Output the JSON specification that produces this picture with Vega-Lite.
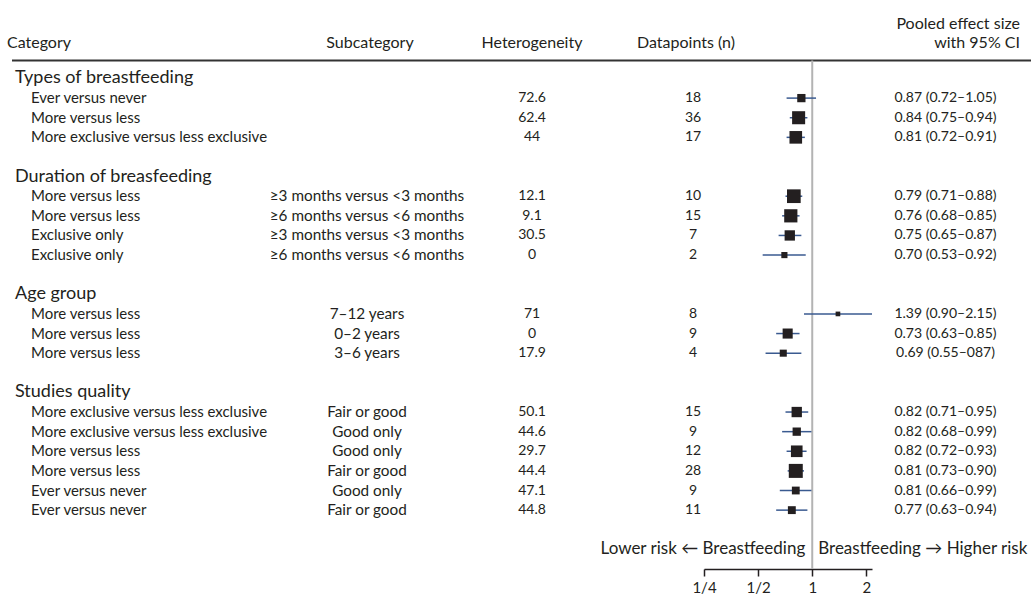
{
  "$schema": "https://vega.github.io/schema/vega-lite/v6.json",
  "width": 1031,
  "height": 569,
  "padding": 0,
  "autosize": {"type": "pad"},
  "background": "white",
  "config": {
    "view": {"stroke": null},
    "font": "Lato",
    "text": {"color": "#231f20", "fontSize": 15, "font": "Lato"}
  },
  "datasets": {
    "rows": [
      {"kind": "section", "row": -1, "label": "Types of breastfeeding"},
      {"kind": "item", "row": 0, "label": "Ever versus never", "sub": "", "het": "72.6", "n": 18, "est": 0.87, "lo": 0.72, "hi": 1.05, "ci": "0.87 (0.72–1.05)", "weight": 108},
      {"kind": "item", "row": 1, "label": "More versus less", "sub": "", "het": "62.4", "n": 36, "est": 0.84, "lo": 0.75, "hi": 0.94, "ci": "0.84 (0.75–0.94)", "weight": 301},
      {"kind": "item", "row": 2, "label": "More exclusive versus less exclusive", "sub": "", "het": "44", "n": 17, "est": 0.81, "lo": 0.72, "hi": 0.91, "ci": "0.81 (0.72–0.91)", "weight": 280},
      {"kind": "section", "row": 4, "label": "Duration of breasfeeding"},
      {"kind": "item", "row": 5, "label": "More versus less", "sub": "≥3 months versus <3 months", "het": "12.1", "n": 10, "est": 0.79, "lo": 0.71, "hi": 0.88, "ci": "0.79 (0.71–0.88)", "weight": 334},
      {"kind": "item", "row": 6, "label": "More versus less", "sub": "≥6 months versus <6 months", "het": "9.1", "n": 15, "est": 0.76, "lo": 0.68, "hi": 0.85, "ci": "0.76 (0.68–0.85)", "weight": 309},
      {"kind": "item", "row": 7, "label": "Exclusive only", "sub": "≥3 months versus <3 months", "het": "30.5", "n": 7, "est": 0.75, "lo": 0.65, "hi": 0.87, "ci": "0.75 (0.65–0.87)", "weight": 181},
      {"kind": "item", "row": 8, "label": "Exclusive only", "sub": "≥6 months versus <6 months", "het": "0", "n": 2, "est": 0.70, "lo": 0.53, "hi": 0.92, "ci": "0.70 (0.53–0.92)", "weight": 50},
      {"kind": "section", "row": 10, "label": "Age group"},
      {"kind": "item", "row": 11, "label": "More versus less", "sub": "7–12 years", "het": "71", "n": 8, "est": 1.39, "lo": 0.90, "hi": 2.15, "ci": "1.39 (0.90–2.15)", "weight": 20},
      {"kind": "item", "row": 12, "label": "More versus less", "sub": "0–2 years", "het": "0", "n": 9, "est": 0.73, "lo": 0.63, "hi": 0.85, "ci": "0.73 (0.63–0.85)", "weight": 171},
      {"kind": "item", "row": 13, "label": "More versus less", "sub": "3–6 years", "het": "17.9", "n": 4, "est": 0.69, "lo": 0.55, "hi": 0.87, "ci": "0.69 (0.55–087)", "weight": 73},
      {"kind": "section", "row": 15, "label": "Studies quality"},
      {"kind": "item", "row": 16, "label": "More exclusive versus less exclusive", "sub": "Fair or good", "het": "50.1", "n": 15, "est": 0.82, "lo": 0.71, "hi": 0.95, "ci": "0.82 (0.71–0.95)", "weight": 181},
      {"kind": "item", "row": 17, "label": "More exclusive versus less exclusive", "sub": "Good only", "het": "44.6", "n": 9, "est": 0.82, "lo": 0.68, "hi": 0.99, "ci": "0.82 (0.68–0.99)", "weight": 109},
      {"kind": "item", "row": 18, "label": "More versus less", "sub": "Good only", "het": "29.7", "n": 12, "est": 0.82, "lo": 0.72, "hi": 0.93, "ci": "0.82 (0.72–0.93)", "weight": 235},
      {"kind": "item", "row": 19, "label": "More versus less", "sub": "Fair or good", "het": "44.4", "n": 28, "est": 0.81, "lo": 0.73, "hi": 0.90, "ci": "0.81 (0.73–0.90)", "weight": 350},
      {"kind": "item", "row": 20, "label": "Ever versus never", "sub": "Good only", "het": "47.1", "n": 9, "est": 0.81, "lo": 0.66, "hi": 0.99, "ci": "0.81 (0.66–0.99)", "weight": 94},
      {"kind": "item", "row": 21, "label": "Ever versus never", "sub": "Fair or good", "het": "44.8", "n": 11, "est": 0.77, "lo": 0.63, "hi": 0.94, "ci": "0.77 (0.63–0.94)", "weight": 96}
    ]
  },
  "data": {"name": "rows"},
  "layer": [
    {
      "data": {"values": [{}]},
      "mark": {"type": "rule", "color": "#333333", "strokeWidth": 2},
      "encoding": {
        "x": {"value": 12},
        "x2": {"value": "width"},
        "y": {"datum": -1.92, "type": "quantitative", "scale": {"domain": [-5, 24], "reverse": true, "nice": false, "zero": false}, "axis": null}
      }
    },
    {
      "data": {"values": [{}]},
      "mark": {"type": "rule", "color": "#b3b3b3", "strokeWidth": 2},
      "encoding": {
        "x": {"datum": 1, "type": "quantitative"},
        "y": {"datum": -1.92, "type": "quantitative"},
        "y2": {"datum": 24}
      }
    },
    {
      "transform": [{"filter": "datum.kind == 'item'"}],
      "mark": {"type": "rule", "color": "#3a5a90", "strokeWidth": 1.5},
      "encoding": {
        "x": {
          "field": "lo", "type": "quantitative",
          "scale": {"type": "log", "domain": [0.25, 2.15], "range": [704, 872], "nice": false},
          "axis": {
            "values": [0.25, 0.5, 1, 2],
            "labelExpr": "datum.value == 0.25 ? '1/4' : datum.value == 0.5 ? '1/2' : datum.value == 1 ? '1' : '2'",
            "title": null, "grid": false,
            "domainColor": "#231f20", "domainWidth": 1.5,
            "tickColor": "#231f20", "tickWidth": 1.5, "tickSize": 7,
            "labelFontSize": 15, "labelColor": "#231f20", "labelPadding": 4, "labelFont": "Lato", "labelFlush": false
          }
        },
        "x2": {"field": "hi"},
        "y": {"field": "row", "type": "quantitative"}
      }
    },
    {
      "transform": [{"filter": "datum.kind == 'item'"}],
      "mark": {"type": "point", "shape": "square", "filled": true, "color": "#231f20", "opacity": 1},
      "encoding": {
        "x": {"field": "est", "type": "quantitative"},
        "y": {"field": "row", "type": "quantitative"},
        "size": {"field": "weight", "type": "quantitative", "scale": {"domain": [20, 350], "range": [22, 196], "zero": false}, "legend": null}
      }
    },
    {
      "transform": [{"filter": "datum.kind == 'section'"}],
      "mark": {"type": "text", "align": "left", "baseline": "middle", "fontSize": 18},
      "encoding": {"x": {"value": 15}, "y": {"field": "row", "type": "quantitative"}, "text": {"field": "label"}}
    },
    {
      "transform": [{"filter": "datum.kind == 'item'"}],
      "mark": {"type": "text", "align": "left", "baseline": "middle"},
      "encoding": {"x": {"value": 31}, "y": {"field": "row", "type": "quantitative"}, "text": {"field": "label"}}
    },
    {
      "transform": [{"filter": "datum.kind == 'item'"}],
      "mark": {"type": "text", "align": "center", "baseline": "middle", "fontSize": 15.3},
      "encoding": {"x": {"value": 367}, "y": {"field": "row", "type": "quantitative"}, "text": {"field": "sub"}}
    },
    {
      "transform": [{"filter": "datum.kind == 'item'"}],
      "mark": {"type": "text", "align": "center", "baseline": "middle", "fontSize": 14},
      "encoding": {"x": {"value": 532}, "y": {"field": "row", "type": "quantitative"}, "text": {"field": "het"}}
    },
    {
      "transform": [{"filter": "datum.kind == 'item'"}],
      "mark": {"type": "text", "align": "center", "baseline": "middle", "fontSize": 14},
      "encoding": {"x": {"value": 693}, "y": {"field": "row", "type": "quantitative"}, "text": {"field": "n", "type": "nominal"}}
    },
    {
      "transform": [{"filter": "datum.kind == 'item'"}],
      "mark": {"type": "text", "align": "center", "baseline": "middle", "fontSize": 14},
      "encoding": {"x": {"value": 945.5}, "y": {"field": "row", "type": "quantitative"}, "text": {"field": "ci"}}
    },
    {
      "data": {"values": [{}]},
      "mark": {"type": "text", "align": "left", "baseline": "middle", "fontSize": 16, "text": "Category"},
      "encoding": {"x": {"value": 7}, "y": {"datum": -2.81, "type": "quantitative"}}
    },
    {
      "data": {"values": [{}]},
      "mark": {"type": "text", "align": "center", "baseline": "middle", "fontSize": 16, "text": "Subcategory"},
      "encoding": {"x": {"value": 370}, "y": {"datum": -2.81, "type": "quantitative"}}
    },
    {
      "data": {"values": [{}]},
      "mark": {"type": "text", "align": "center", "baseline": "middle", "fontSize": 16, "text": "Heterogeneity"},
      "encoding": {"x": {"value": 532}, "y": {"datum": -2.81, "type": "quantitative"}}
    },
    {
      "data": {"values": [{}]},
      "mark": {"type": "text", "align": "left", "baseline": "middle", "fontSize": 16, "text": "Datapoints (n)"},
      "encoding": {"x": {"value": 637}, "y": {"datum": -2.81, "type": "quantitative"}}
    },
    {
      "data": {"values": [{}]},
      "mark": {"type": "text", "align": "right", "baseline": "middle", "fontSize": 16, "text": "Pooled effect size"},
      "encoding": {"x": {"value": 1020}, "y": {"datum": -3.78, "type": "quantitative"}}
    },
    {
      "data": {"values": [{}]},
      "mark": {"type": "text", "align": "right", "baseline": "middle", "fontSize": 16, "text": "with 95% CI"},
      "encoding": {"x": {"value": 1020}, "y": {"datum": -2.81, "type": "quantitative"}}
    },
    {
      "data": {"values": [{}]},
      "mark": {"type": "text", "align": "right", "baseline": "middle", "fontSize": 17, "dx": -7, "text": "Lower risk ← Breastfeeding"},
      "encoding": {"x": {"datum": 1, "type": "quantitative"}, "y": {"datum": 23, "type": "quantitative"}}
    },
    {
      "data": {"values": [{}]},
      "mark": {"type": "text", "align": "left", "baseline": "middle", "fontSize": 17, "dx": 6, "text": "Breastfeeding → Higher risk"},
      "encoding": {"x": {"datum": 1, "type": "quantitative"}, "y": {"datum": 23, "type": "quantitative"}}
    }
  ]
}
